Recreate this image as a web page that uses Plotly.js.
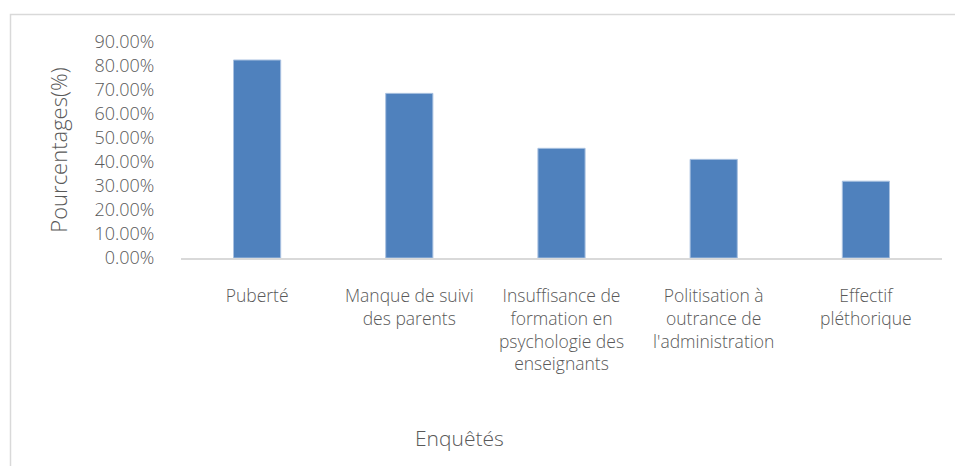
<!DOCTYPE html>
<html>
<head>
<meta charset="utf-8">
<script src="https://cdn.plot.ly/plotly-3.0.1.min.js"></script>
<style>
html,body{margin:0;padding:0;background:#fff;}
#chart{width:955px;height:466px;}
</style>
</head>
<body>
<div id="chart"></div>
<script>
const categories = [
  "Puberté",
  "Manque de suivi<br>des parents",
  "Insuffisance de<br>formation en<br>psychologie des<br>enseignants",
  "Politisation à<br>outrance de<br>l'administration",
  "Effectif<br>pléthorique"
];
const values = [0.825, 0.686, 0.457, 0.411, 0.32];
const yTickValues = [0, 0.1, 0.2, 0.3, 0.4, 0.5, 0.6, 0.7, 0.8, 0.9];
const yTitle = "Pourcentages(%)";
const xTitle = "Enquêtés";

const FONT = "'Open Sans', 'Noto Sans', 'Liberation Sans', sans-serif";
const GREY = "#595959";

const trace = {
  type: "bar",
  x: categories,
  y: values,
  width: 0.31,
  marker: {color: "#4f81bd", line: {color: "#a9c1e0", width: 1}},
  hoverinfo: "none"
};

const layout = {
  width: 955,
  height: 466,
  margin: {l: 181, r: 13, t: 42, b: 208},
  paper_bgcolor: "#ffffff",
  plot_bgcolor: "#ffffff",
  showlegend: false,
  font: {family: FONT, color: GREY, size: 18, weight: 300},
  xaxis: {
    type: "category",
    showgrid: false,
    zeroline: false,
    showline: true,
    linecolor: "#d9d9d9",
    linewidth: 2,
    ticks: "outside",
    ticklen: 21,
    tickcolor: "rgba(0,0,0,0)",
    tickfont: {family: FONT, color: GREY, size: 17.5, weight: 300},
    automargin: false
  },
  yaxis: {
    range: [0, 0.9],
    tickvals: yTickValues,
    tickformat: ".2%",
    showgrid: false,
    zeroline: false,
    showline: false,
    ticks: "outside",
    ticklen: 22,
    tickcolor: "rgba(0,0,0,0)",
    tickfont: {family: FONT, color: GREY, size: 18, weight: 300},
    title: {text: yTitle, font: {family: FONT, color: GREY, size: 22, weight: 300}, standoff: 20},
    automargin: false
  },
  annotations: [{
    text: xTitle,
    xref: "paper", yref: "paper",
    x: (459 - 181) / (942 - 181),
    y: -(438 - 258) / (258 - 42),
    xanchor: "center", yanchor: "middle",
    showarrow: false,
    font: {family: FONT, color: GREY, size: 21, weight: 300}
  }],
  shapes: [{
    type: "rect",
    xref: "paper", yref: "paper",
    x0: -(181 - 10.5) / (942 - 181),
    x1: (970 - 181) / (942 - 181),
    y0: -(480 - 258) / (258 - 42),
    y1: (258 - 14.5) / (258 - 42),
    line: {color: "#d9d9d9", width: 1.5},
    fillcolor: "rgba(0,0,0,0)",
    layer: "below"
  }]
};

Plotly.newPlot("chart", [trace], layout, {displayModeBar: false, staticPlot: true});
</script>
</body>
</html>
